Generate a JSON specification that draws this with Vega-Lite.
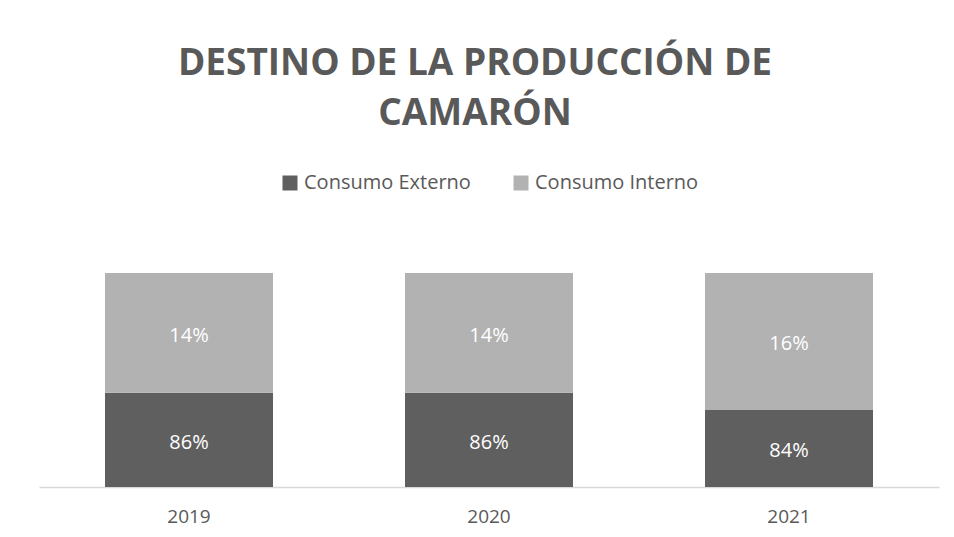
{
  "$schema": "https://vega.github.io/schema/vega-lite/v6.json",
  "autosize": "none",
  "width": 900,
  "height": 214,
  "padding": {"left": 39, "top": 273, "right": 15, "bottom": 50},
  "background": "white",
  "config": {
    "view": {"stroke": null},
    "font": "Open Sans"
  },
  "title": {
    "text": ["DESTINO DE LA PRODUCCIÓN DE", "CAMARÓN"],
    "anchor": "middle",
    "frame": "group",
    "font": "Open Sans",
    "fontSize": 37,
    "fontWeight": "bold",
    "color": "#595959",
    "lineHeight": 50,
    "dx": -14,
    "offset": 40
  },
  "data": {
    "values": [
      {"anio": "2019", "serie": "Consumo Externo", "valor": 86},
      {"anio": "2019", "serie": "Consumo Interno", "valor": 14},
      {"anio": "2020", "serie": "Consumo Externo", "valor": 86},
      {"anio": "2020", "serie": "Consumo Interno", "valor": 14},
      {"anio": "2021", "serie": "Consumo Externo", "valor": 84},
      {"anio": "2021", "serie": "Consumo Interno", "valor": 16}
    ]
  },
  "transform": [
    {"stack": "valor", "groupby": ["anio"], "sort": [{"field": "serie", "order": "ascending"}], "as": ["v0", "v1"]},
    {"calculate": "max(datum.v0, 75)", "as": "lo"},
    {"calculate": "(datum.lo + datum.v1) / 2", "as": "mid"},
    {"calculate": "datum.valor + '%'", "as": "etiqueta"}
  ],
  "encoding": {
    "x": {
      "field": "anio",
      "type": "nominal",
      "scale": {"paddingInner": 0.44, "paddingOuter": 0.22},
      "axis": {
        "title": null,
        "labelAngle": 0,
        "labelFontSize": 19,
        "labelColor": "#595959",
        "labelFont": "Open Sans",
        "labelPadding": 20,
        "ticks": false,
        "domainColor": "#d9d9d9",
        "domainWidth": 1.5
      }
    }
  },
  "layer": [
    {
      "mark": {"type": "bar"},
      "encoding": {
        "y": {"field": "lo", "type": "quantitative", "scale": {"domain": [75, 100], "nice": false, "zero": false}, "axis": null},
        "y2": {"field": "v1"},
        "color": {
          "field": "serie",
          "type": "nominal",
          "scale": {"domain": ["Consumo Externo", "Consumo Interno"], "range": ["#5f5f5f", "#b2b2b2"]},
          "legend": {
            "title": null,
            "orient": "none",
            "direction": "horizontal",
            "legendX": 241,
            "legendY": -100,
            "symbolType": "square",
            "symbolSize": 225,
            "symbolStrokeWidth": 0,
            "labelFontSize": 20,
            "labelLimit": 300,
            "labelColor": "#595959",
            "labelFont": "Open Sans",
            "labelOffset": 4,
            "columnPadding": 40
          }
        }
      }
    },
    {
      "mark": {"type": "text", "color": "white", "fontSize": 20, "font": "Open Sans", "dy": 3},
      "encoding": {
        "y": {"field": "mid", "type": "quantitative"},
        "text": {"field": "etiqueta", "type": "nominal"}
      }
    }
  ]
}
